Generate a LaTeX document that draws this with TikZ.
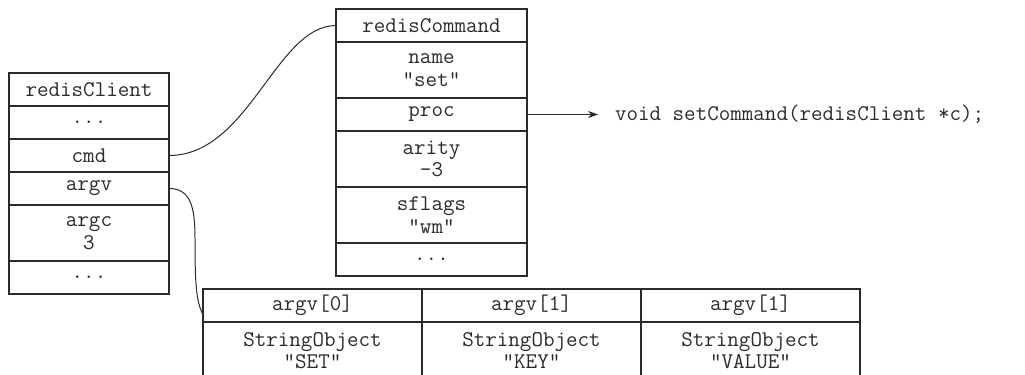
\documentclass[tikz,border=0pt]{standalone}
\usepackage{fontspec}
\usepackage{tikz}
\usetikzlibrary{arrows.meta, positioning}
\definecolor{inkgray}{HTML}{2B2B2B}

\tikzset{
  cell/.style={draw=inkgray, line width=0.7pt, anchor=north west,
    inner sep=0pt, outer sep=0pt, align=center, text=inkgray,
    font=\ttfamily\fontsize{11.2}{11.3}\selectfont},
  clientcell/.style={cell, minimum width=80pt},
  cmdcell/.style={cell, minimum width=95.5pt},
  argcell/.style={cell, minimum width=109.5pt},
  onerow/.style={minimum height=16.5pt},
  tworow/.style={minimum height=28pt},
  link/.style={draw=inkgray, line width=0.5pt},
  codetext/.style={inner sep=0pt, outer sep=0pt, text=inkgray,
    font=\ttfamily\fontsize{11.2}{11.3}\selectfont},
}

\begin{document}
\begin{tikzpicture}[x=0.5pt, y=-0.5pt]
  \useasboundingbox (0,0) rectangle (1025,375);

  %% redisClient
  \node[clientcell, onerow] (rcHead) at (9,73) {redisClient};
  \node[clientcell, onerow, below=0pt of rcHead] (rcDots) {...};
  \node[clientcell, onerow, below=0pt of rcDots] (cmd) {cmd};
  \node[clientcell, onerow, below=0pt of cmd] (argv) {argv};
  \node[clientcell, tworow, below=0pt of argv] (argc) {argc\\3};
  \node[clientcell, onerow, below=0pt of argc] (rcEnd) {...};

  %% redisCommand
  \node[cmdcell, onerow] (rcmdHead) at (336,9) {redisCommand};
  \node[cmdcell, tworow, below=0pt of rcmdHead] (name) {name\\"set"};
  \node[cmdcell, onerow, below=0pt of name] (proc) {proc};
  \node[cmdcell, tworow, below=0pt of proc] (arity) {arity\\-3};
  \node[cmdcell, tworow, below=0pt of arity] (sflags) {sflags\\"wm"};
  \node[cmdcell, onerow, below=0pt of sflags] (rcmdEnd) {...};

  %% argv array
  \node[argcell, onerow] (arg0) at (203,289) {argv[0]};
  \node[argcell, onerow, right=0pt of arg0] (arg1) {argv[1]};
  \node[argcell, onerow, right=0pt of arg1] (arg2) {argv[1]};
  \node[argcell, minimum height=28.5pt, below=0pt of arg0] (obj0) {StringObject\\"SET"};
  \node[argcell, minimum height=28.5pt, below=0pt of arg1] (obj1) {StringObject\\"KEY"};
  \node[argcell, minimum height=28.5pt, below=0pt of arg2] (obj2) {StringObject\\"VALUE"};

  %% proc target
  \node[codetext, right=44pt of proc] (setfn) {void setCommand(redisClient *c);};

  %% links
  \draw[link] (cmd.east) .. controls +(80,0) and +(-60,0) .. (rcmdHead.west);
  \coordinate (drop) at (195,238);
  \draw[link] (argv.east) .. controls +(22,0) and +(0,-30) .. (drop)
    .. controls +(0,45) and +(-7,-13) .. ([yshift=-4.5pt]arg0.west);
  \draw[link, -{Stealth[length=5pt, width=3.6pt]}, shorten >=8.5pt]
    (proc.east) -- (setfn.west);
\end{tikzpicture}
\end{document}
